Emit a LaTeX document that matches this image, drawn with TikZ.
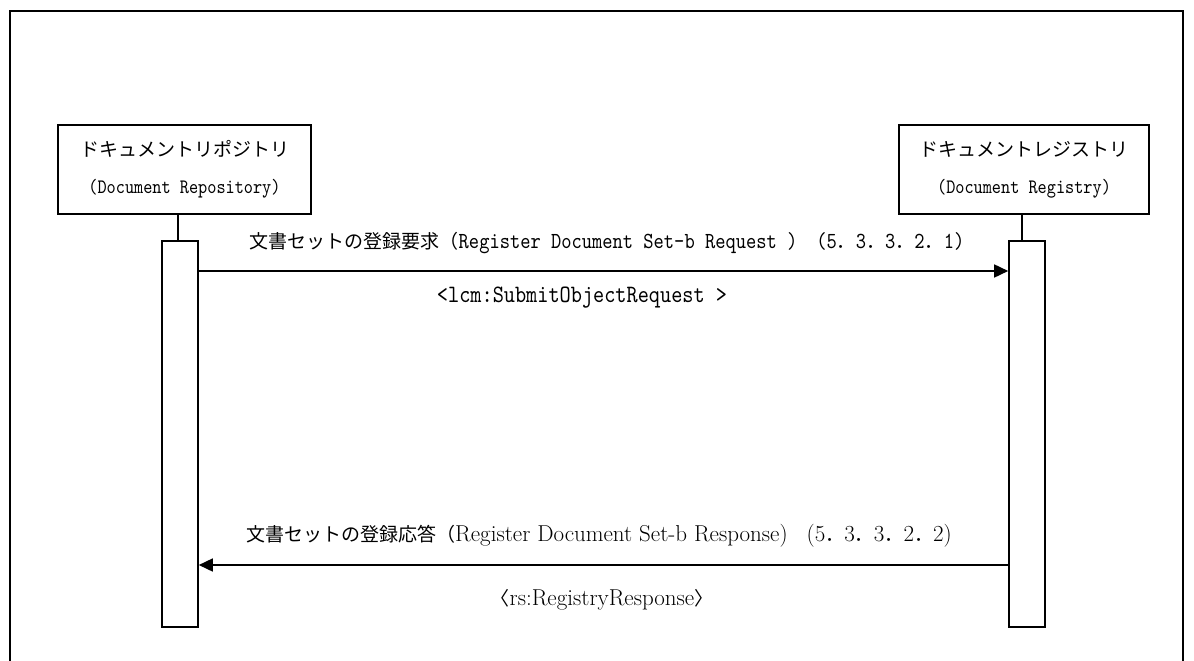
\documentclass[tikz,border=0pt]{standalone}
\usepackage{fontspec}
\newfontfamily\jp{Noto Sans CJK JP}
\newfontfamily\mono{lmmono10-regular.otf}[FakeStretch=0.85]
\usetikzlibrary{arrows.meta}
\newcommand\jpdot{{\jp ．}}
\begin{document}
\begin{tikzpicture}[x=1pt,y=-1pt, line width=1.6pt,
  box/.style={draw, minimum height=89pt, inner sep=0pt, align=center, font=\fontsize{19}{37}\selectfont},
  act/.style={draw, fill=white, minimum width=36pt, minimum height=386pt, inner sep=0pt},
  msg/.style={-{Triangle[length=14pt,width=13pt]}},
  lbl/.style={inner sep=0pt, font=\fontsize{19}{23}\selectfont}]
\useasboundingbox (0,0) rectangle (1194,661);
\draw (10,662) -- (10,11) -- (1183,11) -- (1183,662);
\node[box, minimum width=253pt] (repo) at (184.5,169.5) {{\jp ドキュメントリポジトリ}\\{\mono\fontsize{20.5}{37}\selectfont (Document Repository)}};
\node[box, minimum width=250pt] (reg) at (1024,169.5) {{\jp ドキュメントレジストリ}\\{\mono\fontsize{20.5}{37}\selectfont (Document Registry)}};
\node[act] (actA) at (180,434) {};
\node[act] (actB) at (1027,434) {};
\draw (repo.south -| 178,0) -- (actA.north -| 178,0);
\draw (actA.south -| 178,0) -- (actA.south -| 178,662);
\draw (reg.south -| 1022,0) -- (actB.north -| 1022,0);
\draw (actB.south -| 1022,0) -- (actB.south -| 1022,662);
\draw[msg] (actA.east |- 0,271) -- (actB.west |- 0,271);
\draw[msg] (actB.west |- 0,565) -- (actA.east |- 0,565);
\node[lbl] (l1) at (607,243) {{\jp 文書セットの登録要求（}{\mono\fontsize{23}{23}\selectfont Register Document Set-b Request )}{\jp 　}{\mono\fontsize{23}{23}\selectfont (5}\jpdot{\mono\fontsize{23}{23}\selectfont 3}\jpdot{\mono\fontsize{23}{23}\selectfont 3}\jpdot{\mono\fontsize{23}{23}\selectfont 2}\jpdot{\mono\fontsize{23}{23}\selectfont 1)}};
\node[lbl] (l1b) at (582,298) {{\mono\fontsize{25}{23}\selectfont <lcm:SubmitObjectRequest >}};
\node[lbl] (l2) at (599,536) {{\jp 文書セットの登録応答（}{\fontsize{23}{23}\selectfont Register Document Set-b Response)}{\jp 　}{\fontsize{23}{23}\selectfont (5}\jpdot{\fontsize{23}{23}\selectfont 3}\jpdot{\fontsize{23}{23}\selectfont 3}\jpdot{\fontsize{23}{23}\selectfont 2}\jpdot{\fontsize{23}{23}\selectfont 2)}};
\node[lbl] (l2b) at (602,600) {{\jp 〈}{\fontsize{23}{23}\selectfont rs:RegistryResponse}{\jp 〉}};
\end{tikzpicture}
\end{document}
